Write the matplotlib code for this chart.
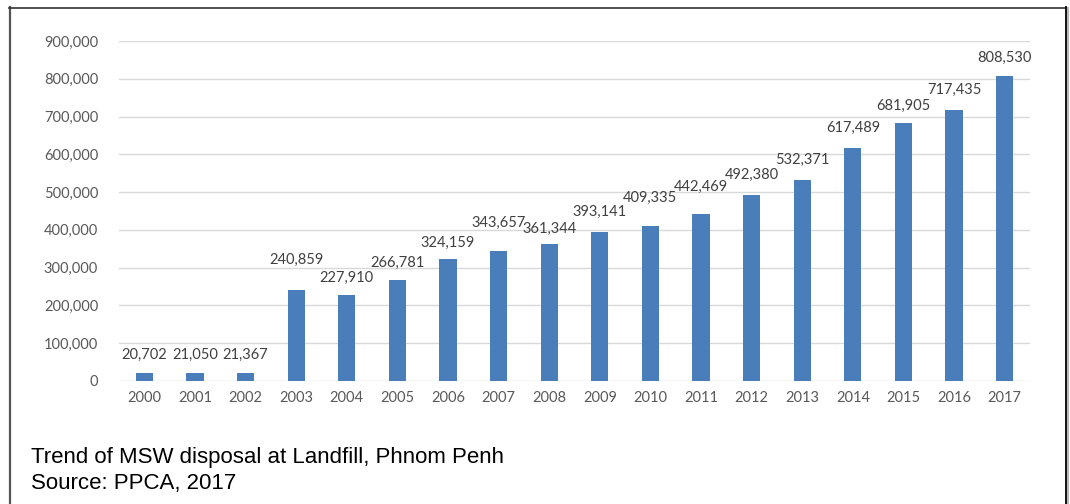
import matplotlib
matplotlib.use("Agg")
import matplotlib.pyplot as plt
from matplotlib.lines import Line2D

years = ["2000", "2001", "2002", "2003", "2004", "2005", "2006", "2007", "2008",
         "2009", "2010", "2011", "2012", "2013", "2014", "2015", "2016", "2017"]
tonnes = [20702, 21050, 21367, 240859, 227910, 266781, 324159, 343657, 361344,
          393141, 409335, 442469, 492380, 532371, 617489, 681905, 717435, 808530]
y_ticks = [0, 100000, 200000, 300000, 400000, 500000, 600000, 700000, 800000, 900000]
caption_1 = "Trend of MSW disposal at Landfill, Phnom Penh"
caption_2 = "Source: PPCA, 2017"

# label lift above bar top (pixels), mimicking manual Excel placement
label_lift_px = [18, 18, 18, 30, 17, 17, 16, 28, 16, 21, 28, 27, 20, 20, 20, 18, 20, 18]

W, H, DPI = 1070, 504, 100
fig = plt.figure(figsize=(W / DPI, H / DPI), dpi=DPI)
fig.patch.set_facecolor("white")

ax_left, ax_right = 119, 1030
ax_top, ax_bottom = 41, 381
ax = fig.add_axes([ax_left / W, (H - ax_bottom) / H, (ax_right - ax_left) / W, (ax_bottom - ax_top) / H])

x = list(range(len(years)))
bars = ax.bar(x, tonnes, width=0.34, color="#4a7ebb", zorder=3)

ax.set_xlim(-0.5, len(years) - 0.5)
ax.set_ylim(0, 900000)
ax.set_yticks(y_ticks)
ax.set_yticklabels([f"{v:,}" for v in y_ticks])
ax.set_xticks(x)
ax.set_xticklabels(years)

tick_font = "Lato"
for lab in ax.get_yticklabels() + ax.get_xticklabels():
    lab.set_fontfamily(tick_font)
    lab.set_fontsize(10.5)
    lab.set_color("#595959")
ax.tick_params(axis="both", length=0)
ax.tick_params(axis="y", pad=15)
ax.tick_params(axis="x", pad=7)

ax.grid(axis="y", color="#d9d9d9", linewidth=1.0, zorder=0)
for s in ax.spines.values():
    s.set_visible(False)

for xi, v, lift in zip(x, tonnes, label_lift_px):
    ax.annotate(f"{v:,}", xy=(xi, v), xytext=(0, lift * 72 / DPI),
                textcoords="offset points", ha="center", va="center",
                fontfamily=tick_font, fontsize=10.5, color="#404040", zorder=4)

# captions
fig.text(31 / W, (H - 463) / H, caption_1, fontfamily="Liberation Sans", fontsize=16,
         color="black", ha="left", va="baseline")
fig.text(31 / W, (H - 489) / H, caption_2, fontfamily="Liberation Sans", fontsize=16,
         color="black", ha="left", va="baseline")

# outer frame
def fx(px):
    return px / W

def fy(py):
    return (H - py) / H

fig.add_artist(Line2D([fx(9.5), fx(9.5)], [fy(7), fy(H + 2)], color="#555555", linewidth=1.6))
fig.add_artist(Line2D([fx(9), fx(1066)], [fy(7.5), fy(7.5)], color="#333333", linewidth=1.2))
fig.add_artist(Line2D([fx(1067.5), fx(1067.5)], [fy(8), fy(H + 2)], color="#aaaaaa", linewidth=1.2))
fig.add_artist(Line2D([fx(1065.5), fx(1065.5)], [fy(7), fy(H + 2)], color="#111111", linewidth=1.4))

fig.savefig("out.png", dpi=DPI)
